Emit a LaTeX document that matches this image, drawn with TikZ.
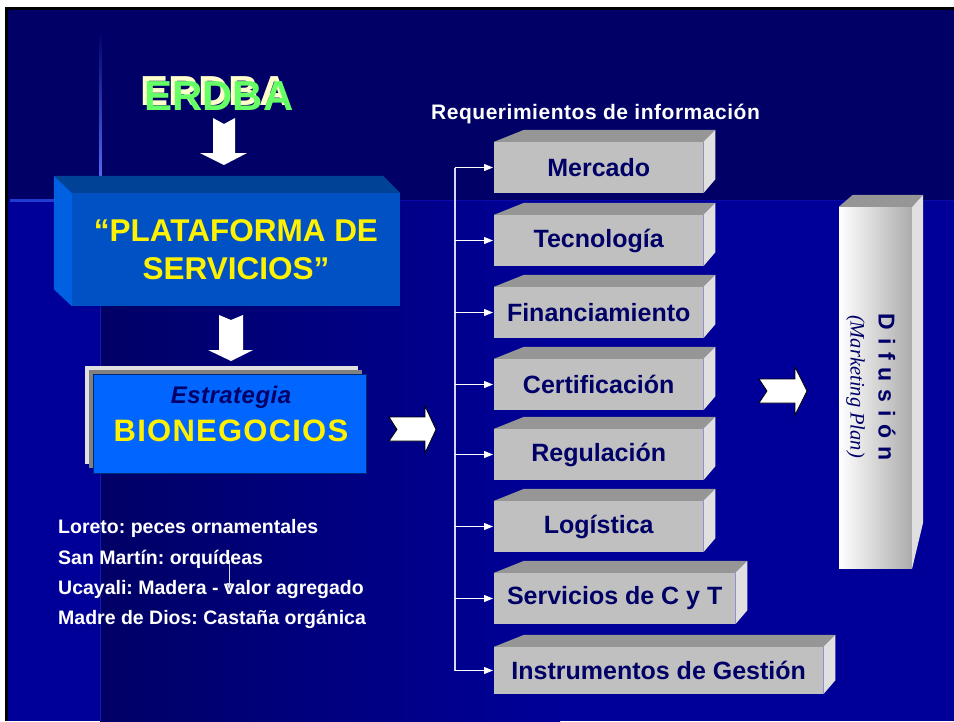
\documentclass[tikz,border=0pt]{standalone}
\usepackage{fontspec}
\setmainfont{Liberation Sans}
\newfontfamily\serifit{Liberation Serif}
\usetikzlibrary{arrows.meta,
                positioning}
\frenchspacing

\definecolor{navytop}{RGB}{0,0,102}
\definecolor{navylow}{RGB}{0,0,153}
\definecolor{glowline}{RGB}{90,120,255}
\definecolor{glowleft}{RGB}{30,60,210}
\definecolor{glowright}{RGB}{10,10,170}
\definecolor{glowdown}{RGB}{20,30,170}
\definecolor{platfront}{RGB}{0,82,196}
\definecolor{plattop}{RGB}{0,66,150}
\definecolor{platside}{RGB}{0,96,226}
\definecolor{bioblue}{RGB}{0,102,255}
\definecolor{bioedge}{RGB}{0,40,120}
\definecolor{biolight}{RGB}{224,224,224}
\definecolor{biodark}{RGB}{128,128,128}
\definecolor{reqfront}{RGB}{192,192,192}
\definecolor{reqtop}{RGB}{150,150,150}
\definecolor{reqside}{RGB}{224,224,224}
\definecolor{difgray}{RGB}{172,172,172}
\definecolor{textnavy}{RGB}{0,0,102}
\definecolor{erdbagreen}{RGB}{102,255,102}
\definecolor{erdbacream}{RGB}{255,255,204}
\definecolor{linkgray}{RGB}{215,215,240}

\begin{document}
\begin{tikzpicture}%
            [x=1pt, y=-1pt,
             reqbox/.style={rectangle, fill=reqfront, inner sep=0pt, minimum height=51pt,
                            anchor=west, text=textnavy,
                            font=\fontsize{25}{30}\selectfont\bfseries},
             regiontext/.style={anchor=base west, inner sep=0pt, text=white,
                            font=\fontsize{19.5}{23}\selectfont\bfseries},
             blockdown/.style={fill=white},
             blockright/.style={fill=white, draw=black, line width=0.8pt},
             link/.style={draw=linkgray, line width=1.3pt},
             linkarrow/.style={draw=white, line width=1.1pt, -{Triangle[length=9pt,width=7pt]}, shorten >=1pt}]
            \useasboundingbox (0,0) rectangle (954,721);
            % background
            \fill[white] (0,0) rectangle (954,721);
            \fill[black] (5,7) rectangle (954,721);
            \fill[navytop] (8,10) rectangle (954,201);
            \fill[navylow] (8,201) rectangle (100,721);
            \shade[left color=navytop, right color=navylow] (100,201) rectangle (560,721);
            \fill[navylow] (559,201) rectangle (954,721);
            \shade[top color=navytop, bottom color=glowline] (99,30) rectangle (101.5,193);
            \fill[glowleft] (10,199) rectangle (54,201.5);
            \fill[glowright] (400,199.5) rectangle (954,201);
            \fill[glowdown] (99.5,306) rectangle (101,721);

            % ERDBA
            \node [anchor=base, inner sep=0pt, text=erdbagreen, font=\fontsize{42}{50}\selectfont\bfseries]
                   (erdba) at (219,110)
                   {\makebox[0pt][l]{\hspace*{-4pt}\raisebox{5pt}{\textcolor{erdbacream}{ERDBA}}}ERDBA};
            \fill[blockdown] (213,118) -- (224,124) -- (235,118) -- (235,153) -- (247,153)
                             -- (224,165) -- (200,153) -- (213,153) -- cycle;

            % plataforma
            \node [rectangle, fill=platfront, inner sep=0pt, minimum width=328pt, minimum height=113pt,
                   text=yellow, align=center, font=\fontsize{31.5}{38}\selectfont\bfseries]
                   (plataforma) at (236,249.5) {“PLATAFORMA DE\\SERVICIOS”};
            \fill[plattop] (plataforma.north west) -- ++(-18,-17) -- ([shift={(-17,-17)}]plataforma.north east)
                           -- (plataforma.north east) -- cycle;
            \fill[platside] (plataforma.north west) -- ++(-18,-17) -- ([shift={(-18,-17)}]plataforma.south west)
                            -- (plataforma.south west) -- cycle;
            \fill[blockdown] (219,315) -- (231,320) -- (243,315) -- (243,350) -- (253,350)
                             -- (231,361) -- (208,350) -- (219,350) -- cycle;

            % bionegocios
            \fill[biolight] (85,366) rectangle (358,464);
            \fill[biodark] (89,370) rectangle (362,468);
            \node [rectangle, fill=bioblue, draw=bioedge, line width=1pt, minimum width=273pt, minimum height=99pt]
                   (bionegocios) at (229.5,423.5) {};
            \node [anchor=base, inner sep=0pt, text=textnavy,
                   font=\fontsize{24}{28}\selectfont\bfseries\itshape\addfontfeatures{LetterSpace=2}]
                   (estrategia) at (231,403) {Estrategia};
            \node [anchor=base, inner sep=0pt, text=yellow,
                   font=\fontsize{31}{38}\selectfont\bfseries\addfontfeatures{LetterSpace=4}]
                   (bionegociostext) at (231,441) {BIONEGOCIOS};
            \fill[blockright] (389,417) -- (425,417) -- (425,406) -- (436,429.5) -- (425,453)
                              -- (425,441) -- (389,441) -- (397,429.5) -- cycle;

            % regiones
            \node [regiontext] (loreto) at (58,533) {Loreto: peces ornamentales};
            \node [regiontext] (sanmartin) at (58,564) {San Martín: orquídeas};
            \node [regiontext] (ucayali) at (58,594) {Ucayali: Madera - valor agregado};
            \node [regiontext] (madre) at (58,624) {Madre de Dios: Castaña orgánica};
            \coordinate (ucaA) at (229,560);
            \coordinate (ucaB) at (229,589);
            \draw [draw=linkgray, line width=0.8pt, -{Triangle[length=6pt,width=5pt]}] (ucaA) -- (ucaB);

            % requerimientos
            \node [anchor=base west, inner sep=0pt, text=white,
                   font=\fontsize{21}{25}\selectfont\bfseries\addfontfeatures{LetterSpace=2.5}]
                   (titulo) at (431,119) {Requerimientos de información};
            \node [reqbox, minimum width=209pt] (mercado) at (494,167.5) {Mercado};
            \node [reqbox, minimum width=209pt] (tecnologia) at (494,240.5) {Tecnología};
            \node [reqbox, minimum width=209pt] (financiamiento) at (494,312.5) {Financiamiento};
            \node [reqbox, minimum width=209pt] (certificacion) at (494,384.5) {Certificación};
            \node [reqbox, minimum width=209pt] (regulacion) at (494,454.5) {Regulación};
            \node [reqbox, minimum width=209pt] (logistica) at (494,526.5) {Logística};
            \node [reqbox, minimum width=241pt] (servicios) at (494,598.5) {Servicios de C y T};
            \node [reqbox, minimum width=329pt, minimum height=47pt] (gestion) at (494,670.5) {Instrumentos de Gestión};
            \foreach \b in {mercado,tecnologia,financiamiento,certificacion,regulacion,logistica,servicios,gestion} {
                \fill[reqtop] (\b.north west) -- ++(30,-12) -- ([shift={(12,-12)}]\b.north east)
                              -- (\b.north east) -- cycle;
                \fill[reqside] (\b.north east) -- ++(12,-12) -- ([shift={(12,-14)}]\b.south east)
                               -- (\b.south east) -- cycle;
            }

            \coordinate (trunk) at (455,167);
            \draw [link] (trunk |- mercado.west) -- (trunk |- gestion.west);
            \draw [linkarrow] (trunk |- mercado.west) -- (mercado.west);
            \draw [linkarrow] (trunk |- tecnologia.west) -- (tecnologia.west);
            \draw [linkarrow] (trunk |- financiamiento.west) -- (financiamiento.west);
            \draw [linkarrow] (trunk |- certificacion.west) -- (certificacion.west);
            \draw [linkarrow] (trunk |- regulacion.west) -- (regulacion.west);
            \draw [linkarrow] (trunk |- logistica.west) -- (logistica.west);
            \draw [linkarrow] (trunk |- servicios.west) -- (servicios.west);
            \draw [linkarrow] (trunk |- gestion.west) -- (gestion.west);

            % difusion
            \fill[blockright] (759,379) -- (795,379) -- (795,367) -- (807,391) -- (795,415)
                              -- (795,403) -- (759,403) -- (767,391) -- cycle;
            \node [rectangle, left color=white, right color=difgray,
                   inner sep=0pt, minimum width=73pt, minimum height=361pt]
                   (difusion) at (875.5,387.5) {};
            \fill[reqtop] (difusion.north west) -- ++(14,-12) -- ([shift={(11,-12)}]difusion.north east)
                          -- (difusion.north east) -- cycle;
            \fill[reqside] (difusion.north east) -- ++(11,-12) -- ([shift={(11,-46)}]difusion.south east)
                           -- (difusion.south east) -- cycle;
            \node [rotate=-90, inner sep=0pt, text=textnavy,
                   font=\fontsize{23}{28}\selectfont\bfseries\addfontfeatures{LetterSpace=34}]
                   (difusiontext) at (887,387) {Difusión};
            \node [rotate=-90, inner sep=0pt, text=textnavy, font=\serifit\itshape\fontsize{20.5}{24}\selectfont]
                   (marketing) at (855.5,386.5) {(Marketing Plan)};
        \end{tikzpicture}
\end{document}
